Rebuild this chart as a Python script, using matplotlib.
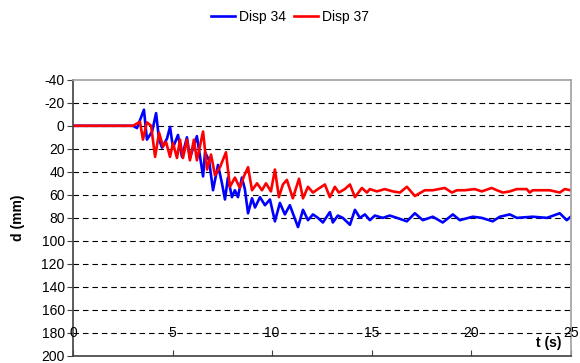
import matplotlib
matplotlib.use("Agg")
import matplotlib.pyplot as plt

plt.rcParams['font.family'] = ['Liberation Sans', 'DejaVu Sans']
plt.rcParams['axes.unicode_minus'] = False

# Disp 34 (blue)
t34 = [0, 3.01, 3.21, 3.56, 3.71, 3.97, 4.17, 4.32, 4.47, 4.72, 4.87, 5.02, 5.27, 5.47,
       5.72, 5.87, 6.22, 6.38, 6.53, 6.63, 6.83, 7.03, 7.28, 7.48, 7.63, 7.78, 7.98,
       8.13, 8.28, 8.48, 8.63, 8.79, 8.99, 9.14, 9.39, 9.64, 9.89, 10.14, 10.39, 10.64,
       10.89, 11.30, 11.55, 11.80, 12.05, 12.30, 12.55, 12.90, 13.05, 13.30, 13.55,
       13.91, 14.16, 14.41, 14.66, 14.91, 15.16, 15.56, 15.91, 16.27, 16.77, 17.17,
       17.57, 18.07, 18.57, 19.08, 19.43, 20.08, 20.53, 21.08, 21.44, 21.94, 22.29,
       23.09, 23.80, 24.45, 24.80, 25.0]
d34 = [0, 0, 2, -14, 12, 5, -11, 12, 19, 11, 1, 19, 8, 27,
       10, 28, 9, 27, 44, 23, 30, 56, 34, 50, 64, 45, 62,
       56, 62, 45, 55, 76, 63, 71, 62, 69, 64, 83, 67, 77,
       69, 88, 73, 82, 77, 80, 84, 75, 84, 78, 80,
       86, 73, 80, 77, 82, 78, 80, 78, 80, 83, 76,
       82, 79, 84, 77, 82, 79, 80, 83, 79, 77, 80,
       79, 80, 76, 82, 79]

# Disp 37 (red)
t37 = [0, 3.01, 3.21, 3.36, 3.51, 3.71, 3.92, 4.12, 4.32, 4.52, 4.67, 4.87, 5.02, 5.22,
       5.37, 5.52, 5.72, 5.87, 6.07, 6.22, 6.53, 6.73, 6.93, 7.13, 7.38, 7.68, 7.88,
       8.13, 8.38, 8.58, 8.79, 8.99, 9.24, 9.49, 9.69, 9.94, 10.14, 10.34, 10.54, 10.74,
       11.04, 11.35, 11.55, 11.80, 12.05, 12.30, 12.65, 12.90, 13.15, 13.35, 13.65,
       13.91, 14.16, 14.51, 14.76, 14.91, 15.26, 15.66, 16.06, 16.42, 16.77, 17.17,
       17.67, 18.07, 18.67, 19.03, 19.28, 19.68, 20.18, 20.53, 21.03, 21.29, 21.59,
       21.94, 22.29, 22.79, 22.94, 23.09, 23.95, 24.45, 24.70, 25.0]
d37 = [0, 0, -2, -3.5, 12, -3, 0, 27, 6, 18, 14, 27, 15, 28,
       12, 28, 12, 30, 12, 30, 5, 38, 25, 43, 36, 23, 53,
       45, 54, 44, 36, 56, 50, 56, 50, 57, 38, 62, 51, 47,
       63, 46, 63, 53, 58, 55, 51, 62, 53, 58, 55,
       51, 62, 54, 58, 55, 57, 55, 57, 58, 53, 61,
       56, 56, 54, 58, 56, 56, 55, 57, 54, 56, 58,
       57, 55, 55, 58, 56, 56, 58, 55, 56]

yticks = list(range(-40, 201, 20))
xticks = [0, 5, 10, 15, 20, 25]

fig = plt.figure(figsize=(5.8, 3.63), dpi=100)
ax = fig.add_axes([0.126, 0.0193, 0.858, 0.761])

ax.plot(t34, d34, color='#0000ff', lw=1.9, label='Disp 34', solid_joinstyle='round')
ax.plot(t37, d37, color='#ff0000', lw=1.9, label='Disp 37', solid_joinstyle='round')

ax.set_xlim(0, 25)
ax.set_ylim(200, -40)
ax.set_yticks(yticks)
ax.set_xticks(xticks)
ax.set_xticklabels([])
ax.tick_params(axis='x', direction='in', length=4, color='#404040')
ax.tick_params(axis='y', direction='out', length=4, color='#404040', labelsize=10, pad=2)

for y in yticks[1:]:
    ax.axhline(y, color='black', lw=0.8, dashes=(5, 3.5), zorder=0)

# x tick labels drawn at d = 180 like the original
for x in xticks:
    ax.text(x, 180, str(x), ha='center', va='center', fontsize=10)

ax.text(23.9, 189, 't (s)', ha='center', va='center', fontsize=10, fontweight='bold')
ax.set_ylabel('d (mm)', fontsize=10, fontweight='bold', labelpad=12)

ax.spines['left'].set_color('#404040')
ax.spines['bottom'].set_color('#404040')
ax.spines['top'].set_color('#a0a0a0')
ax.spines['right'].set_color('#a0a0a0')
for s in ax.spines.values():
    s.set_linewidth(1.2)

fig.legend(loc='center', bbox_to_anchor=(0.5, 0.953), ncol=2, frameon=False,
           fontsize=10, handlelength=1.7, handletextpad=0.3, columnspacing=0.6)

fig.savefig('out.png', dpi=100)
